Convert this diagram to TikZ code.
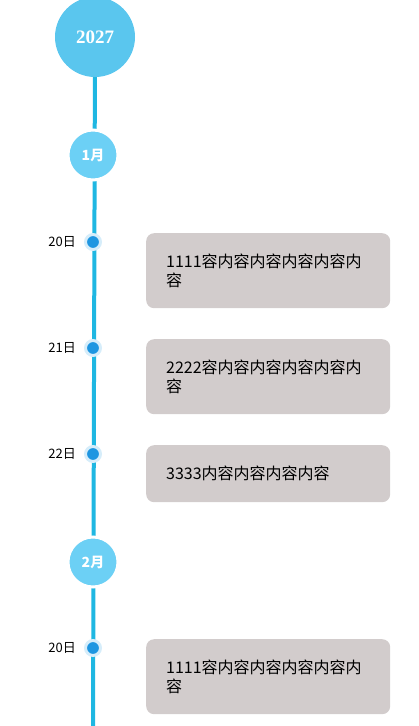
\documentclass[tikz,border=0pt]{standalone}
\usepackage{fontspec}
\setmainfont{Noto Sans CJK SC}
\newfontfamily\yearfont{Liberation Serif}
\usetikzlibrary{positioning,backgrounds}
\definecolor{tlcyan}{RGB}{31,183,226}
\definecolor{yearblue}{RGB}{90,198,238}
\definecolor{monthblue}{RGB}{108,208,245}
\definecolor{dotblue}{RGB}{30,150,225}
\definecolor{ringblue}{RGB}{214,237,250}
\definecolor{boxgrey}{RGB}{210,204,204}
\tikzset{
  yearcirc/.style={circle, fill=yearblue, minimum size=80pt, inner sep=0pt,
    text=white, font=\yearfont\bfseries\fontsize{19}{19}\selectfont},
  monthcirc/.style={circle, fill=monthblue, draw=white, line width=3pt,
    minimum size=50pt, inner sep=0pt, text=white, font=\bfseries\fontsize{14}{14}\selectfont},
  daydot/.style={circle, fill=dotblue, draw=ringblue, line width=3pt,
    minimum size=15pt, inner sep=0pt},
  daylabel/.style={font=\fontsize{13}{13}\selectfont, inner sep=2pt},
  eventbox/.style={fill=boxgrey, rounded corners=8pt, anchor=north west,
    text width=204pt, inner xsep=20pt, inner ysep=0pt, align=left,
    font=\fontsize{16}{19}\selectfont},
  tline/.style={draw=tlcyan, line width=4pt}
}
\begin{document}
\begin{tikzpicture}[x=1pt, y=-1pt]
\useasboundingbox (0,0) rectangle (418,726);

\node[yearcirc] (year) at (95,37) {2027};
\node[monthcirc] (m1) at (93,155) {1月};
\node[monthcirc] (m2) at (93,562) {2月};
\coordinate (bot) at (93,726);

% 日期 / 高度 / 内容
\foreach \i/\y/\d/\h/\t in {
1/242/20日/75/{1111容内容内容内容内容内\\容},
2/348/21日/75/{2222容内容内容内容内容内\\容},
3/454/22日/57/{3333内容内容内容内容},
4/648/20日/75/{1111容内容内容内容内容内\\容}
}{
    \node[daydot] (d\i) at (93,\y) {};
    \node[daylabel, left=6pt of d\i] (l\i) {\d};
    \node[eventbox, minimum height=\h pt] (c\i) at (146,\y-9) {\t};
}

\begin{scope}[on background layer]
\draw[tline] (year.center) -- (bot);
\end{scope}

\end{tikzpicture}
\end{document}
